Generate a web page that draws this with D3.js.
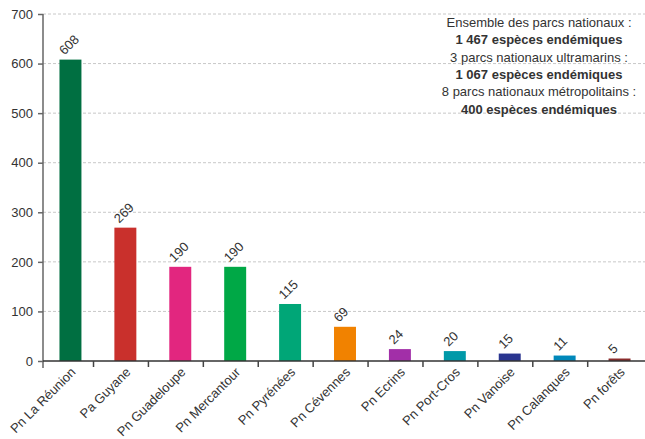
<!DOCTYPE html>
<html>
<head>
<meta charset="utf-8">
<script src="https://cdn.jsdelivr.net/npm/d3@7"></script>
<style>
  body { margin: 0; background: #fff; }
  text { font-family: "Liberation Sans", Arial, Helvetica, sans-serif; fill: #333; }
</style>
</head>
<body>
<div id="chart"></div>
<script>
const parks = ["Pn La Réunion", "Pa Guyane", "Pn Guadeloupe", "Pn Mercantour", "Pn Pyrénées",
    "Pn Cévennes", "Pn Ecrins", "Pn Port-Cros", "Pn Vanoise", "Pn Calanques", "Pn forêts"];
const species = [608, 269, 190, 190, 115, 69, 24, 20, 15, 11, 5];
const colors = ["#006f41", "#c9302c", "#e2267f", "#00a846", "#00a677", "#f18200",
    "#a22fa8", "#0099a8", "#2a3590", "#0088ba", "#8a2b2b"];
const yTicks = [0, 100, 200, 300, 400, 500, 600, 700];
const notes = [
    {text: "Ensemble des parcs nationaux :", bold: false},
    {text: "1 467 espèces endémiques", bold: true},
    {text: "3 parcs nationaux ultramarins :", bold: false},
    {text: "1 067 espèces endémiques", bold: true},
    {text: "8 parcs nationaux métropolitains :", bold: false},
    {text: "400 espèces endémiques", bold: true}
];

const width = 645, height = 439;
const margin = {top: 14, right: 0, bottom: 78, left: 43};

const svg = d3.select("#chart")
    .append("svg")
    .attr("width", width)
    .attr("height", height);

const x = d3.scaleBand()
    .domain(parks)
    .range([margin.left, width + 2])
    .paddingInner(0.6)
    .paddingOuter(0.3);

const y = d3.scaleLinear()
    .domain([0, 700])
    .range([height - margin.bottom, margin.top]);

// grid lines
svg.append("g")
    .selectAll("line")
    .data(yTicks.filter(d => d > 0))
    .join("line")
    .attr("x1", margin.left)
    .attr("x2", width)
    .attr("y1", d => y(d))
    .attr("y2", d => y(d))
    .attr("stroke", "#c8c8c8")
    .attr("stroke-width", 1)
    .attr("stroke-dasharray", "3,2");

// bars
svg.append("g")
    .selectAll("rect")
    .data(parks)
    .join("rect")
    .attr("x", d => x(d))
    .attr("y", (d, i) => y(species[i]))
    .attr("width", x.bandwidth())
    .attr("height", (d, i) => y(0) - y(species[i]))
    .attr("fill", (d, i) => colors[i]);

// value labels
svg.append("g")
    .selectAll("text")
    .data(parks)
    .join("text")
    .attr("transform", (d, i) =>
        `translate(${x(d) + x.bandwidth() / 2 - 6}, ${y(species[i]) - 4}) rotate(-45)`)
    .attr("font-size", 13)
    .text((d, i) => species[i]);

// y axis
const yAxis = svg.append("g")
    .attr("transform", `translate(${margin.left},0)`)
    .call(d3.axisLeft(y).tickValues(yTicks).tickSize(5).tickPadding(5));
yAxis.select(".domain")
    .attr("d", `M0,${margin.top}V${y(0) + 7}`)
    .attr("stroke", "#666")
    .attr("stroke-width", 1.5);
yAxis.selectAll(".tick line").attr("stroke", "#666").attr("stroke-width", 1.5);
yAxis.selectAll(".tick text")
    .attr("font-size", 13)
    .attr("font-family", "Liberation Sans, Arial, sans-serif")
    .attr("fill", "#333");

// x axis line and separators
const step = x.step();
svg.append("line")
    .attr("x1", margin.left)
    .attr("x2", width)
    .attr("y1", y(0))
    .attr("y2", y(0))
    .attr("stroke", "#333")
    .attr("stroke-width", 1.5);

svg.append("g")
    .selectAll("line")
    .data(parks.slice(1))
    .join("line")
    .attr("x1", d => x(d) - x.bandwidth() * 0.6 - (step - x.bandwidth() * 1.6) / 2 + x.bandwidth() * 0.1)
    .attr("x2", d => x(d) - x.bandwidth() * 0.6 - (step - x.bandwidth() * 1.6) / 2 + x.bandwidth() * 0.1)
    .attr("y1", y(0))
    .attr("y2", y(0) + 6)
    .attr("stroke", "#444")
    .attr("stroke-width", 1.5);

// category labels
svg.append("g")
    .selectAll("text")
    .data(parks)
    .join("text")
    .attr("transform", d => `translate(${x(d) + x.bandwidth() / 2 + 6}, ${y(0) + 12}) rotate(-45)`)
    .attr("text-anchor", "end")
    .attr("font-size", 13)
    .text(d => d);

// note block
svg.append("g")
    .selectAll("text")
    .data(notes)
    .join("text")
    .attr("x", 539)
    .attr("y", (d, i) => 27 + i * 17.3)
    .attr("text-anchor", "middle")
    .attr("font-size", 13)
    .attr("font-weight", d => d.bold ? "bold" : "normal")
    .attr("fill", d => d.bold ? "#111" : "#333")
    .text(d => d.text);
</script>
</body>
</html>
